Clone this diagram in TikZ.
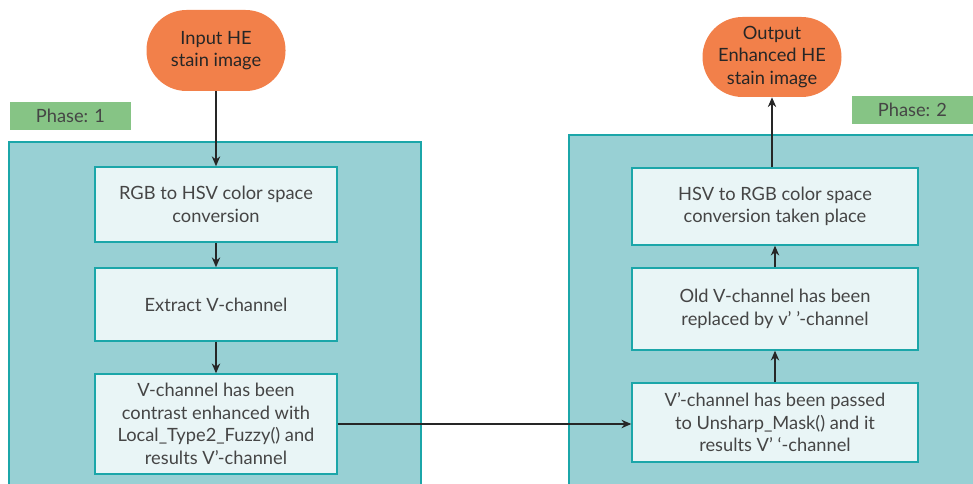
\documentclass[tikz,border=0pt]{standalone}
\usepackage{fontspec}
\setmainfont{Lato}
\usetikzlibrary{positioning}
\usetikzlibrary{backgrounds}
\usetikzlibrary{arrows.meta}

\definecolor{termorange}{HTML}{F2804A}
\definecolor{panelfill}{HTML}{98D0D4}
\definecolor{tealline}{HTML}{1BA6A9}
\definecolor{boxfill}{HTML}{E9F5F6}
\definecolor{phasegreen}{HTML}{86C485}
\definecolor{textgrey}{HTML}{454545}

\begin{document}
\begin{tikzpicture} [
            flowarr/.style={->,black!85,line width=0.8pt},
            procbox/.style={draw=tealline,line width=1pt,fill=boxfill,text=textgrey,
                            minimum width=6.05cm,inner sep=2pt},
            termnode/.style={fill=termorange,rounded corners=1cm,text=black!85,
                             minimum width=3.475cm,minimum height=2.025cm},
            phaselbl/.style={fill=phasegreen,text=textgrey,minimum width=3.025cm,minimum height=0.7cm},
            >={Stealth[length=7pt,width=6pt]},
         every node/.append style={align=center,font=\fontsize{13}{16}\selectfont}]
\useasboundingbox (0,0) rectangle (24.325,-12.1);

%P1
\node (ph1) at (1.7625,-2.9) [phaselbl] {Phase: 1};
\begin{pgfonlayer}{background}
   % Left-top corner of the panel
   \path (0.225,-3.55) node (a1) {};
   % Right-bottom corner of the panel
   \path (10.525,-12.3) node (c1) {};
   % Draw the panel
   \path[fill=panelfill, draw=tealline, line width=1pt]
   (a1.center) rectangle (c1.center);
\end{pgfonlayer}

%input
\node (input) at (5.4,-1.2625) [termnode] {Input HE\\stain image};

%steps of phase 1
\node (rgbhsv) at (5.4,-5.11) [procbox,minimum height=1.875cm] {RGB to HSV color space\\conversion};
\node (extract) at (5.4,-7.61) [procbox,minimum height=1.825cm] {Extract V-channel};
\node (fuzzy) at (5.4,-10.6) [procbox,minimum height=2.5cm] {V-channel has been\\contrast enhanced with\\Local\_Type2\_Fuzzy() and\\results V'-channel};
\draw [flowarr] (input) -- (rgbhsv);
\draw [flowarr] (rgbhsv) -- (extract);
\draw [flowarr] (extract) -- (fuzzy);

%P2
\node (ph2) at (22.8125,-2.75) [phaselbl] {Phase: 2};
\begin{pgfonlayer}{background}
   % Left-top corner of the panel
   \path (14.225,-3.375) node (a2) {};
   % Right-bottom corner of the panel
   \path (24.6,-12.3) node (c2) {};
   % Draw the panel
   \path[fill=panelfill, draw=tealline, line width=1pt]
   (a2.center) rectangle (c2.center);
\end{pgfonlayer}

%steps of phase 2
\node (unsharp) at (19.375,-10.5625) [procbox,minimum width=7.15cm,minimum height=1.975cm] {V'-channel has been passed\\to Unsharp\_Mask() and it\\results V' `-channel};
\node (replace) at (19.375,-7.725) [procbox,minimum width=7.15cm,minimum height=2.05cm] {Old V-channel has been\\replaced by v' '-channel};
\node (hsvrgb) at (19.375,-5.1625) [procbox,minimum width=7.15cm,minimum height=1.925cm] {HSV to RGB color space\\conversion taken place};

%output
\node (output) at (19.3,-1.425) [termnode,minimum height=2cm] {Output\\Enhanced HE\\stain image};

\draw [flowarr] (fuzzy) -- (fuzzy -| unsharp.west);
\draw [flowarr] (unsharp) -- (replace);
\draw [flowarr] (replace) -- (hsvrgb);
\draw [flowarr] (hsvrgb.north -| output) -- (output);

\end{tikzpicture}
\end{document}
